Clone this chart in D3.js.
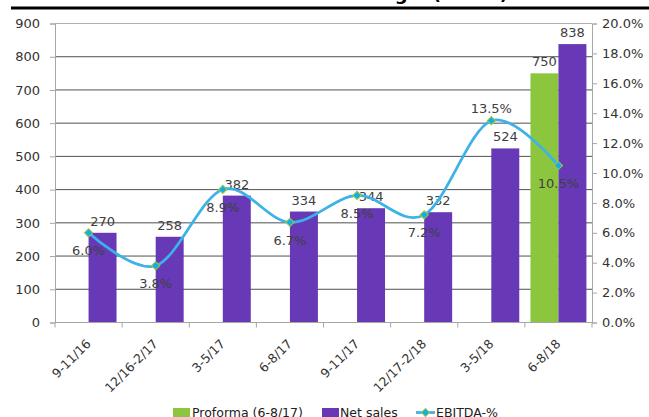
<!DOCTYPE html>
<html>
  <head>
    <meta http-equiv="Content-type" content="text/html; charset=utf-8"/>
    <title>Net sales and EBITDA margin</title>
    <script src="https://d3js.org/d3.v7.min.js"></script>
    <style>
      body{
        margin: 0;
        background: #fff;
      }
      svg{
        display: block;
        font-family: "DejaVu Sans", sans-serif;
      }
    </style>
  </head>
  <body>
    <svg width="649" height="417"></svg>
    <script>
      // ### Chart data ###
      var categories = ["9-11/16", "12/16-2/17", "3-5/17", "6-8/17", "9-11/17", "12/17-2/18", "3-5/18", "6-8/18"];
      var proforma = [null, null, null, null, null, null, null, 750];
      var netSales = [270, 258, 382, 334, 344, 332, 524, 838];
      var ebitdaPct = [6.0, 3.8, 8.9, 6.7, 8.5, 7.2, 13.5, 10.5];
      var leftTicks = [0, 100, 200, 300, 400, 500, 600, 700, 800, 900];
      var rightTicks = [0, 2, 4, 6, 8, 10, 12, 14, 16, 18, 20];
      var seriesNames = ["Proforma (6-8/17)", "Net sales", "EBITDA-%"];

      var colors = {proforma: "#8cc63f", sales: "#6739b6", line: "#3db2e8", marker: "#0cb0ea", markerEdge: "#a4c43c"};

      var svg = d3.select("svg");
      var plotL = 55, plotR = 592, plotT = 23.5, plotB = 322.5;

      // title sits above the picture, only its lowest pixels show
      svg.append("text")
          .attr("x", 508).attr("y", -0.5)
          .attr("text-anchor", "end")
          .attr("font-weight", "bold")
          .attr("font-size", 18)
          .attr("fill", "#000")
          .text("Net sales and EBITDA margin (MEUR)");
      svg.append("rect")
          .attr("x", 11).attr("y", 6.5)
          .attr("width", 638).attr("height", 3)
          .attr("fill", "#000");

      var x = d3.scaleBand().domain(categories).range([plotL, plotR]);
      var xSub = d3.scaleBand().domain(["proforma", "sales"])
          .range([0, x.bandwidth()]).paddingOuter(0.2);
      var y = d3.scaleLinear().domain([0, 900]).range([plotB, plotT]);
      var y2 = d3.scaleLinear().domain([0, 20]).range([plotB, plotT]);

      // gridlines
      svg.append("g")
        .selectAll("line")
        .data(leftTicks.filter(function(d){ return d > 0; }))
        .join("line")
          .attr("x1", plotL).attr("x2", plotR)
          .attr("y1", function(d){ return y(d); })
          .attr("y2", function(d){ return y(d); })
          .attr("stroke", function(d){ return d == 900 ? "#b0b0b0" : "#505050"; })
          .attr("stroke-width", 1);

      // left axis
      var gl = svg.append("g")
          .attr("transform", "translate(" + plotL + ",0)")
          .call(d3.axisLeft(y).tickValues(leftTicks).tickSize(5).tickPadding(10));
      // right axis
      var gr = svg.append("g")
          .attr("transform", "translate(" + plotR + ",0)")
          .call(d3.axisRight(y2).tickValues(rightTicks).tickSize(5).tickPadding(5)
            .tickFormat(function(d){ return d.toFixed(1) + "%"; }));
      [gl, gr].forEach(function(g){
        g.selectAll(".domain").attr("stroke", "#a6a6a6");
        g.selectAll(".tick line").attr("stroke", "#a6a6a6");
        g.selectAll(".tick text").attr("font-size", 13).attr("fill", "#333")
          .attr("font-family", "DejaVu Sans");
      });

      // bars
      var bars = svg.append("g");
      bars.selectAll(".pf")
        .data(categories.map(function(c, i){ return {c: c, v: proforma[i]}; }).filter(function(d){ return d.v != null; }))
        .join("rect")
          .attr("x", function(d){ return x(d.c) + xSub("proforma"); })
          .attr("width", xSub.bandwidth())
          .attr("y", function(d){ return y(d.v); })
          .attr("height", function(d){ return y(0) - y(d.v); })
          .attr("fill", colors.proforma);
      bars.selectAll(".ns")
        .data(categories.map(function(c, i){ return {c: c, v: netSales[i]}; }))
        .join("rect")
          .attr("x", function(d){ return x(d.c) + xSub("sales"); })
          .attr("width", xSub.bandwidth())
          .attr("y", function(d){ return y(d.v); })
          .attr("height", function(d){ return y(0) - y(d.v); })
          .attr("fill", colors.sales);

      // x axis
      var gx = svg.append("g")
          .attr("transform", "translate(0," + plotB + ")");
      gx.append("line").attr("x1", plotL).attr("x2", plotR).attr("stroke", "#a6a6a6");
      gx.selectAll(".tk")
        .data(d3.range(categories.length + 1))
        .join("line")
          .attr("x1", function(i){ return plotL + i * x.step(); })
          .attr("x2", function(i){ return plotL + i * x.step(); })
          .attr("y1", 0).attr("y2", 5)
          .attr("stroke", "#a6a6a6");
      svg.append("g").selectAll("text")
        .data(categories)
        .join("text")
          .attr("transform", function(d){
            return "translate(" + (x(d) + x.bandwidth() / 2 + 3) + "," + (plotB + 22) + ") rotate(-45)";
          })
          .attr("text-anchor", "end")
          .attr("font-size", 12.5)
          .attr("fill", "#333")
          .text(function(d){ return d; });

      // bar value labels
      var labels = svg.append("g").attr("font-size", 13).attr("fill", "#404040").attr("text-anchor", "middle");
      labels.selectAll(".nl")
        .data(categories.map(function(c, i){ return {c: c, v: netSales[i]}; }))
        .join("text")
          .attr("x", function(d){ return x(d.c) + xSub("sales") + xSub.bandwidth() / 2; })
          .attr("y", function(d){ return y(d.v) - 7; })
          .text(function(d){ return d.v; });
      labels.selectAll(".pl")
        .data(categories.map(function(c, i){ return {c: c, v: proforma[i]}; }).filter(function(d){ return d.v != null; }))
        .join("text")
          .attr("x", function(d){ return x(d.c) + xSub("proforma") + xSub.bandwidth() / 2; })
          .attr("y", function(d){ return y(d.v) - 7; })
          .text(function(d){ return d.v; });

      // EBITDA-% line
      var pts = categories.map(function(c, i){ return [x(c) + x.bandwidth() / 2, y2(ebitdaPct[i]), ebitdaPct[i]]; });
      var line = d3.line().curve(d3.curveCardinal.tension(0))
          .x(function(d){ return d[0]; })
          .y(function(d){ return d[1]; });
      svg.append("path")
          .datum(pts)
          .attr("fill", "none")
          .attr("stroke", colors.line)
          .attr("stroke-width", 2.75)
          .attr("stroke-linejoin", "round")
          .attr("stroke-linecap", "round")
          .attr("d", line);

      var marker = d3.symbol().type(d3.symbolSquare).size(34);
      svg.append("g").selectAll("path")
        .data(pts)
        .join("path")
          .attr("transform", function(d){ return "translate(" + d[0] + "," + d[1] + ") rotate(45)"; })
          .attr("d", marker)
          .attr("fill", colors.marker)
          .attr("stroke", colors.markerEdge)
          .attr("stroke-width", 1);

      labels.selectAll(".el")
        .data(pts)
        .join("text")
          .attr("x", function(d){ return d[0]; })
          .attr("y", function(d){ return d[2] > 12 ? d[1] - 8 : d[1] + 22.5; })
          .text(function(d){ return d[2].toFixed(1) + "%"; });

      // legend
      var lg = svg.append("g").attr("font-size", 12.5).attr("fill", "#222");
      lg.append("rect").attr("x", 173).attr("y", 408).attr("width", 17).attr("height", 9).attr("fill", colors.proforma);
      lg.append("text").attr("x", 192).attr("y", 417).text(seriesNames[0]);
      lg.append("rect").attr("x", 322).attr("y", 408).attr("width", 17).attr("height", 9).attr("fill", colors.sales);
      lg.append("text").attr("x", 340).attr("y", 417).text(seriesNames[1]);
      lg.append("line").attr("x1", 416).attr("x2", 435).attr("y1", 412.5).attr("y2", 412.5)
          .attr("stroke", colors.line).attr("stroke-width", 2.75);
      lg.append("path")
          .attr("transform", "translate(425.5,412.5) rotate(45)")
          .attr("d", marker)
          .attr("fill", colors.marker)
          .attr("stroke", colors.markerEdge);
      lg.append("text").attr("x", 436).attr("y", 417).text(seriesNames[2]);
    </script>
  </body>
</html>
